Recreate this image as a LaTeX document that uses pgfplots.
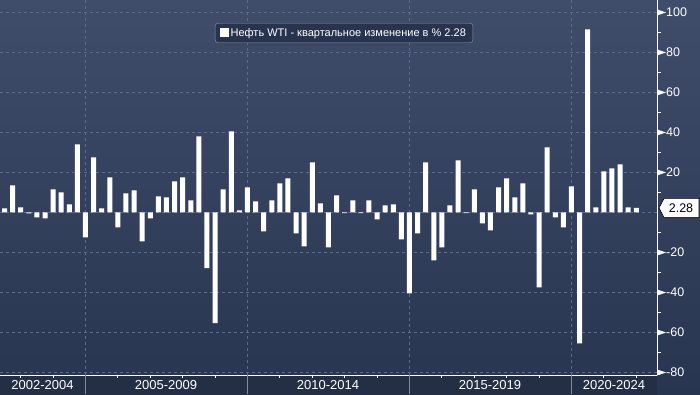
\documentclass[border=0pt]{standalone}
\usepackage{pgfplots}
\pgfplotsset{compat=1.18}
\usepackage{fontspec}
\setmainfont{Liberation Sans}
\definecolor{bgtop}{RGB}{63,77,107}
\definecolor{bgbot}{RGB}{40,53,80}
\definecolor{gridc}{RGB}{90,108,138}
\definecolor{bandc}{RGB}{36,47,70}
\definecolor{legfill}{RGB}{40,52,78}
\definecolor{legdraw}{RGB}{140,148,165}
\definecolor{sepc}{RGB}{130,138,155}
\begin{document}
\begin{tikzpicture}[x=1pt,y=1pt]
\useasboundingbox (0,0) rectangle (700,395);
\shade[top color=bgtop, bottom color=bgbot] (0,0) rectangle (700,395);
\fill[bandc] (0,0) rectangle (657,19.5);
\begin{axis}[
  at={(0pt,20pt)}, anchor=south west,
  scale only axis, width=657pt, height=375pt,
  xmin=-0.556, xmax=80.56, ymin=-81.25, ymax=106.25,
  separate axis lines,
  axis x line*=bottom, axis y line*=right,
  axis line style={white, line width=0.8pt, -},
  xtick={10,30,50,70}, xticklabels={},
  ytick={-80,-60,-40,-20,20,40,60,80,100},
  minor ytick={-70,-50,-30,-10,10,30,50,70,90},
  extra y ticks={0}, extra y tick labels={},
  extra y tick style={grid=major},
  xmajorgrids, ymajorgrids,
  major grid style={color=gridc, dash pattern=on 3pt off 3pt, line width=0.7pt},
  major tick length=0pt, minor tick length=4pt, tick align=outside,
  minor tick style={white, line width=0.8pt},
  /pgf/number format/assume math mode=true,
  yticklabel style={font=\fontsize{12.5}{14}\selectfont, text=white, anchor=west, xshift=8pt, inner sep=1pt},
  clip=false,
  legend style={at={(axis description cs:0.5236,0.912)}, anchor=center,
    fill=legfill, draw=legdraw, rounded corners=3pt, text=white,
    font=\fontsize{11}{13}\selectfont, inner xsep=5pt, inner ysep=3pt},
  legend image code/.code={\fill[white, sharp corners] (0pt,-4pt) rectangle (8.5pt,4.5pt);},
]
\addplot[ybar, bar width=5pt, bar shift=0pt, fill=white, draw=none] coordinates {
(0,2.0) (1,13.5) (2,2.5) (3,-0.5) (4,-2.5) (5,-3) (6,11.5) (7,10) (8,4) (9,34)
(10,-12.5) (11,27.5) (12,2) (13,17.5) (14,-7.5) (15,9.5) (16,11) (17,-14.5) (18,-3) (19,8)
(20,7.5) (21,15.5) (22,17.5) (23,6) (24,38) (25,-27.8) (26,-55.3) (27,11.5) (28,40.5) (29,1)
(30,12.5) (31,5.5) (32,-9.5) (33,6) (34,14.5) (35,17) (36,-10.5) (37,-17) (38,25) (39,4.5)
(40,-17.5) (41,8.5) (42,-0.3) (43,6) (44,-0.3) (45,6) (46,-3.5) (47,3.5) (48,4) (49,-13.5)
(50,-40.5) (51,-10.5) (52,25) (53,-24) (54,-17.5) (55,3.5) (56,26) (57,-0.3) (58,11.5) (59,-5.5)
(60,-9) (61,12.5) (62,17) (63,7.5) (64,14.5) (65,-1) (66,-37.5) (67,32.5) (68,-2.5) (69,-7.5)
(70,13) (71,-65.5) (72,91.5) (73,2.5) (74,20.5) (75,22) (76,24) (77,2.5) (78,2.28)
};
\addlegendentry{Нефть WTI - квартальное изменение в \% 2.28}
% separators and year ticks in the date band
\pgfplotsinvokeforeach{10,30,50,70}{
  \draw[sepc, line width=0.8pt] (axis cs:#1,-81.25) -- ++(0pt,-19.5pt);
}
\pgfplotsinvokeforeach{2,6,14,18,22,26,34,38,42,46,54,58,62,66,74,78}{
  \draw[white, line width=0.8pt] (axis cs:#1,-81.25) -- ++(0pt,-3pt);
}
\pgfplotsinvokeforeach{-80,-60,-40,-20,20,40,60,80,100}{
  \fill[white] (axis cs:80.56,#1) ++(0pt,3pt) -- ++(9pt,-3pt) -- ++(-9pt,-3pt) -- cycle;
}
\node[text=white, font=\fontsize{13}{15}\selectfont] at (axis cs:4.69,-81.25) [yshift=-10pt] {2002-2004};
\node[text=white, font=\fontsize{13}{15}\selectfont] at (axis cs:19.94,-81.25) [yshift=-10pt] {2005-2009};
\node[text=white, font=\fontsize{13}{15}\selectfont] at (axis cs:39.94,-81.25) [yshift=-10pt] {2010-2014};
\node[text=white, font=\fontsize{13}{15}\selectfont] at (axis cs:59.94,-81.25) [yshift=-10pt] {2015-2019};
\node[text=white, font=\fontsize{13}{15}\selectfont] at (axis cs:75.25,-81.25) [yshift=-10pt] {2020-2024};
% last value label
\draw[fill=white, draw=black, line width=0.6pt] (axis cs:80.56,2.28) ++(2pt,0pt) -- ++(5pt,9.5pt) -- ++(35pt,0pt) -- ++(0pt,-19pt) -- ++(-35pt,0pt) -- cycle;
\node[text=black, font=\fontsize{12.5}{14}\selectfont] at (axis cs:80.56,2.28) [xshift=24pt] {2.28};
\end{axis}
\end{tikzpicture}
\end{document}
